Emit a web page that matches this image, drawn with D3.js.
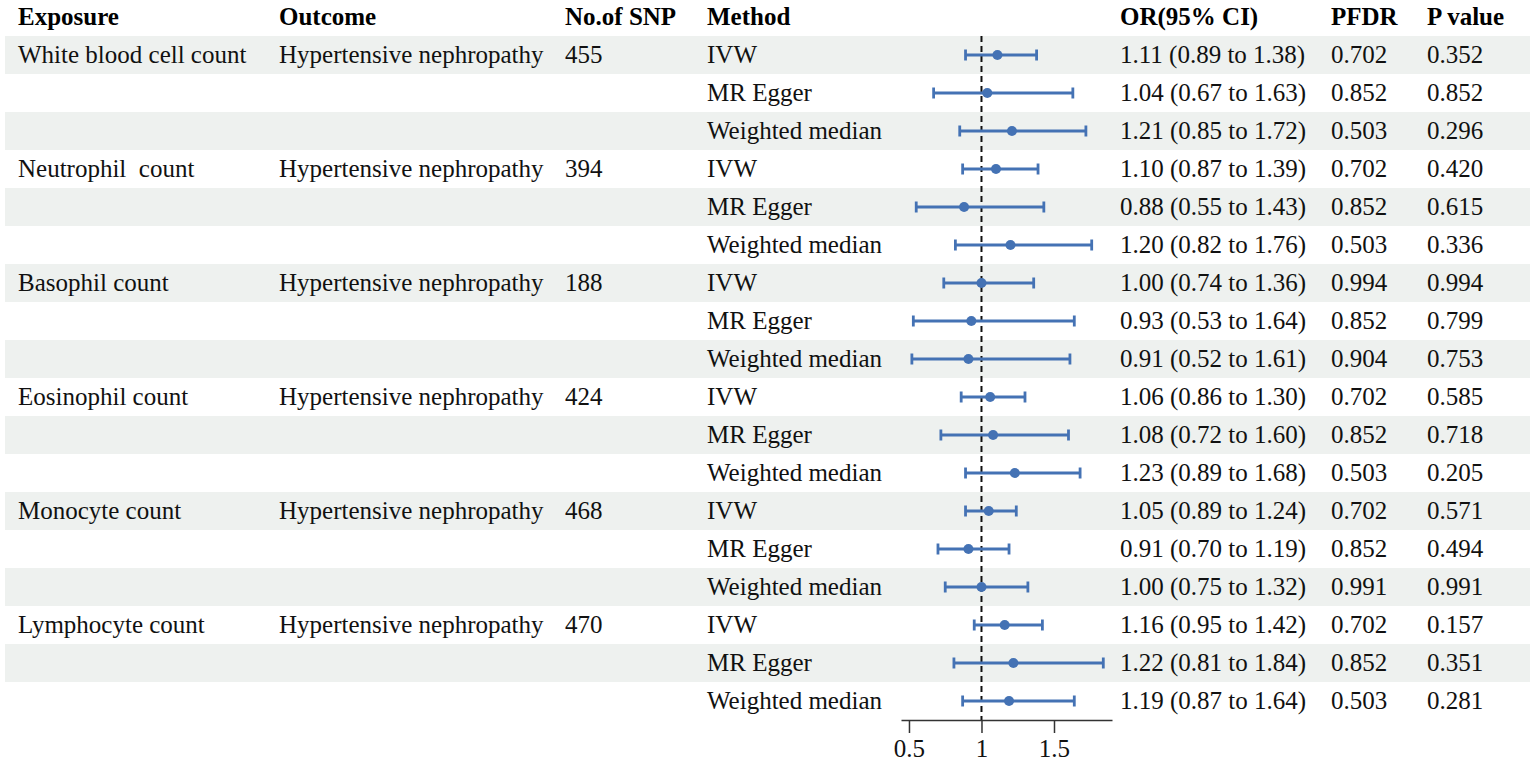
<!DOCTYPE html>
<html>
<head>
<meta charset="utf-8">
<script src="https://cdn.jsdelivr.net/npm/d3@7"></script>
<style>
  body { margin: 0; background: #fff; }
  svg { display: block; font-family: "Liberation Serif", "Times New Roman", serif; }
</style>
</head>
<body>
<div id="chart"></div>
<script>
// table data, one entry per row
var exposures = ['White blood cell count', '', '', 'Neutrophil  count', '', '', 'Basophil count', '', '',
    'Eosinophil count', '', '', 'Monocyte count', '', '', 'Lymphocyte count', '', '']
var outcomes = ['Hypertensive nephropathy', '', '', 'Hypertensive nephropathy', '', '', 'Hypertensive nephropathy', '', '',
    'Hypertensive nephropathy', '', '', 'Hypertensive nephropathy', '', '', 'Hypertensive nephropathy', '', '']
var snps = ['455', '', '', '394', '', '', '188', '', '', '424', '', '', '468', '', '', '470', '', '']
var methods = ['IVW', 'MR Egger', 'Weighted median']
var orValues = [1.11, 1.04, 1.21, 1.10, 0.88, 1.20, 1.00, 0.93, 0.91, 1.06, 1.08, 1.23, 1.05, 0.91, 1.00, 1.16, 1.22, 1.19]
var ciLow = [0.89, 0.67, 0.85, 0.87, 0.55, 0.82, 0.74, 0.53, 0.52, 0.86, 0.72, 0.89, 0.89, 0.70, 0.75, 0.95, 0.81, 0.87]
var ciHigh = [1.38, 1.63, 1.72, 1.39, 1.43, 1.76, 1.36, 1.64, 1.61, 1.30, 1.60, 1.68, 1.24, 1.19, 1.32, 1.42, 1.84, 1.64]
var pfdr = ['0.702', '0.852', '0.503', '0.702', '0.852', '0.503', '0.994', '0.852', '0.904',
    '0.702', '0.852', '0.503', '0.702', '0.852', '0.991', '0.702', '0.852', '0.503']
var pvalues = ['0.352', '0.852', '0.296', '0.420', '0.615', '0.336', '0.994', '0.799', '0.753',
    '0.585', '0.718', '0.205', '0.571', '0.494', '0.991', '0.157', '0.351', '0.281']
var headers = ['Exposure', 'Outcome', 'No.of SNP', 'Method', 'OR(95% CI)', 'PFDR', 'P value']
var tickValues = [0.5, 1, 1.5]

var width = 1535, height = 764
var blue = '#4472b4'
var rowH = 38, topY = 36
var colX = [18, 279, 565, 707, 1120, 1331, 1427]

var svg = d3.select('#chart').append('svg')
    .attr('width', width)
    .attr('height', height)

var rows = d3.range(orValues.length).map(function (i) {
    return {
        exposure: exposures[i],
        outcome: outcomes[i],
        snp: snps[i],
        method: methods[i % 3],
        or: orValues[i],
        lo: ciLow[i],
        hi: ciHigh[i],
        ci: orValues[i].toFixed(2) + ' (' + ciLow[i].toFixed(2) + ' to ' + ciHigh[i].toFixed(2) + ')',
        pfdr: pfdr[i],
        p: pvalues[i]
    }
})

var y = d3.scaleBand()
    .domain(d3.range(rows.length))
    .range([topY, topY + rowH * rows.length])

var x = d3.scaleLinear()
    .domain([0.445, 1.9])
    .range([901, 1112])

// shaded bands
svg.append('g')
    .selectAll('rect')
    .data(d3.range(0, rows.length, 2))
    .enter()
    .append('rect')
    .attr('x', 5)
    .attr('width', 1525)
    .attr('y', function (d) { return y(d) })
    .attr('height', y.bandwidth())
    .style('fill', '#eef1ef')

// header
svg.append('g')
    .selectAll('text')
    .data(headers)
    .enter()
    .append('text')
    .attr('x', function (d, i) { return colX[i] })
    .attr('y', 25)
    .attr('font-size', '25px')
    .attr('font-weight', 'bold')
    .style('fill', '#000')
    .text(function (d) { return d })

// table cells
var keys = ['exposure', 'outcome', 'snp', 'method', 'ci', 'pfdr', 'p']
var rowG = svg.append('g')
    .selectAll('g')
    .data(rows)
    .enter()
    .append('g')
    .attr('transform', function (d, i) { return 'translate(0,' + (y(i) + y.bandwidth() / 2 + 8) + ')' })

keys.forEach(function (k, j) {
    rowG.append('text')
        .attr('x', colX[j])
        .attr('font-size', '25px')
        .style('white-space', 'pre')
        .style('fill', '#111')
        .text(function (d) { return d[k] })
})

// reference line at OR = 1
svg.append('line')
    .attr('x1', x(1))
    .attr('x2', x(1))
    .attr('y1', topY)
    .attr('y2', topY + rowH * rows.length)
    .style('stroke', '#111')
    .style('stroke-width', 2)
    .style('stroke-dasharray', '6,4')

// error bars
var bars = svg.append('g')
    .selectAll('g')
    .data(rows)
    .enter()
    .append('g')
    .attr('transform', function (d, i) { return 'translate(0,' + (y(i) + y.bandwidth() / 2) + ')' })

bars.append('line')
    .attr('x1', function (d) { return x(d.lo) })
    .attr('x2', function (d) { return x(d.hi) })
    .style('stroke', blue)
    .style('stroke-width', 2.8)

bars.selectAll('line.cap')
    .data(function (d) { return [d.lo, d.hi] })
    .enter()
    .append('line')
    .attr('class', 'cap')
    .attr('x1', function (d) { return x(d) })
    .attr('x2', function (d) { return x(d) })
    .attr('y1', -5.5)
    .attr('y2', 5.5)
    .style('stroke', blue)
    .style('stroke-width', 2.8)

bars.append('circle')
    .attr('cx', function (d) { return x(d.or) })
    .attr('r', 5)
    .style('fill', blue)

// x axis
var axis = svg.append('g')
    .attr('transform', 'translate(0,' + (topY + rowH * rows.length) + ')')
    .call(d3.axisBottom(x).tickValues(tickValues).tickSize(13).tickSizeOuter(0).tickFormat(d3.format('')))

axis.select('.domain').style('stroke', '#333').style('stroke-width', 1.5)
axis.selectAll('.tick line').style('stroke', '#333').style('stroke-width', 1.5)
axis.selectAll('.tick text')
    .attr('dy', 0)
    .attr('y', 37)
    .attr('font-size', '25px')
    .attr('font-family', '"Liberation Serif", serif')
    .style('fill', '#111')
</script>
</body>
</html>
